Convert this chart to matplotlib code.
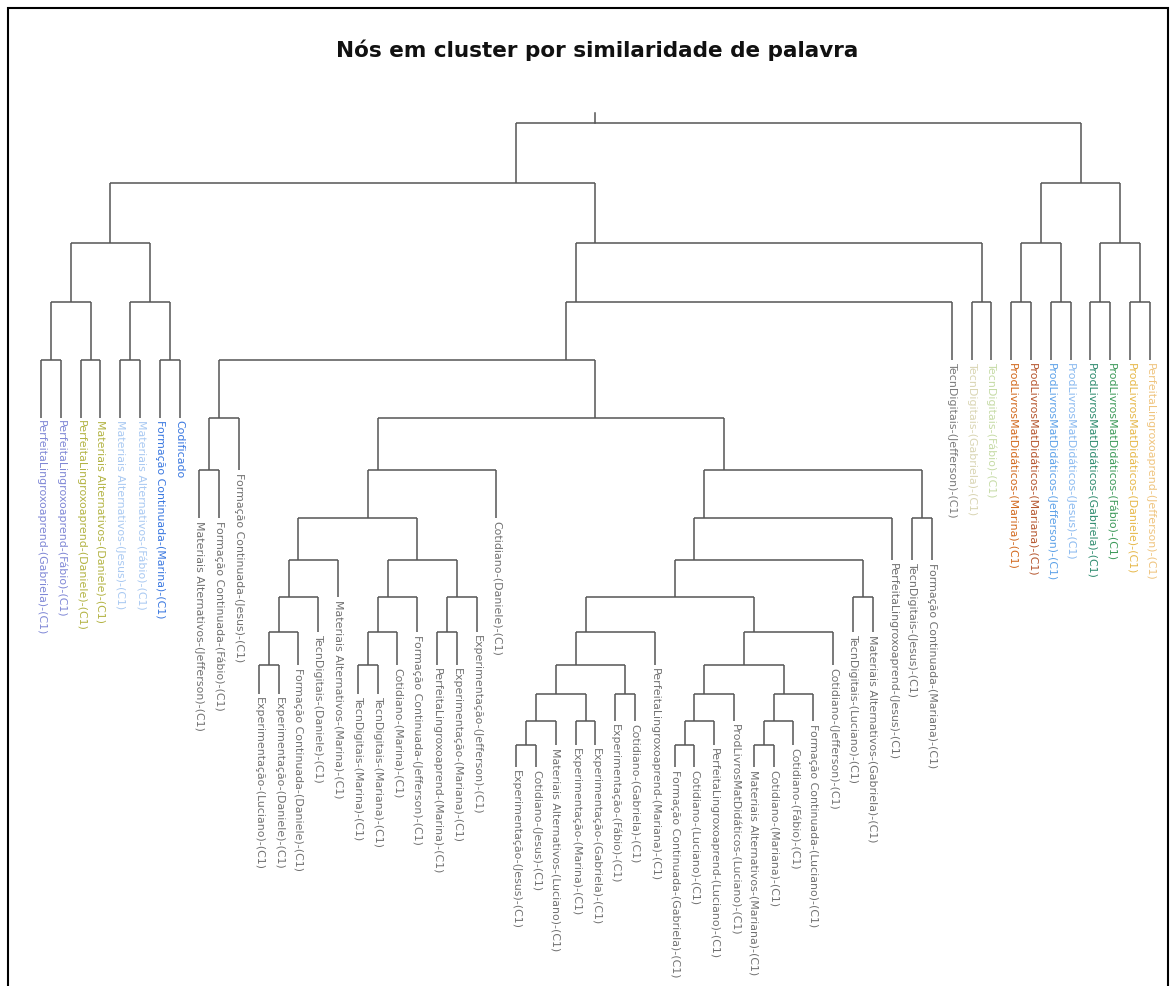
import matplotlib
matplotlib.use("Agg")
import matplotlib.pyplot as plt
from matplotlib.patches import Rectangle
import numpy as np

# ---------------- data ----------------
title = "Nós em cluster por similaridade de palavra"

leaf_labels = [
    "PerfeitaLingroxoaprend-(Gabriela)-(C1)", "PerfeitaLingroxoaprend-(Fábio)-(C1)",
    "PerfeitaLingroxoaprend-(Daniele)-(C1)", "Materiais Alternativos-(Daniele)-(C1)",
    "Materiais Alternativos-(Jesus)-(C1)", "Materiais Alternativos-(Fábio)-(C1)",
    "Formação Continuada-(Marina)-(C1)", "Codificado",
    "Materiais Alternativos-(Jefferson)-(C1)", "Formação Continuada-(Fábio)-(C1)",
    "Formação Continuada-(Jesus)-(C1)",
    "Experimentação-(Luciano)-(C1)", "Experimentação-(Daniele)-(C1)",
    "Formação Continuada-(Daniele)-(C1)", "TecnDigitais-(Daniele)-(C1)",
    "Materiais Alternativos-(Marina)-(C1)", "TecnDigitais-(Marina)-(C1)",
    "TecnDigitais-(Mariana)-(C1)", "Cotidiano-(Marina)-(C1)",
    "Formação Continuada-(Jefferson)-(C1)", "PerfeitaLingroxoaprend-(Marina)-(C1)",
    "Experimentação-(Mariana)-(C1)", "Experimentação-(Jefferson)-(C1)",
    "Cotidiano-(Daniele)-(C1)",
    "Experimentação-(Jesus)-(C1)", "Cotidiano-(Jesus)-(C1)",
    "Materiais Alternativos-(Luciano)-(C1)", "Experimentação-(Marina)-(C1)",
    "Experimentação-(Gabriela)-(C1)", "Experimentação-(Fábio)-(C1)",
    "Cotidiano-(Gabriela)-(C1)", "PerfeitaLingroxoaprend-(Mariana)-(C1)",
    "Formação Continuada-(Gabriela)-(C1)", "Cotidiano-(Luciano)-(C1)",
    "PerfeitaLingroxoaprend-(Luciano)-(C1)", "ProdLivrosMatDidáticos-(Luciano)-(C1)",
    "Materiais Alternativos-(Mariana)-(C1)", "Cotidiano-(Mariana)-(C1)",
    "Cotidiano-(Fábio)-(C1)", "Formação Continuada-(Luciano)-(C1)",
    "Cotidiano-(Jefferson)-(C1)", "TecnDigitais-(Luciano)-(C1)",
    "Materiais Alternativos-(Gabriela)-(C1)", "PerfeitaLingroxoaprend-(Jesus)-(C1)",
    "TecnDigitais-(Jesus)-(C1)", "Formação Continuada-(Mariana)-(C1)",
    "TecnDigitais-(Jefferson)-(C1)", "TecnDigitais-(Gabriela)-(C1)",
    "TecnDigitais-(Fábio)-(C1)",
    "ProdLivrosMatDidáticos-(Marina)-(C1)", "ProdLivrosMatDidáticos-(Mariana)-(C1)",
    "ProdLivrosMatDidáticos-(Jefferson)-(C1)", "ProdLivrosMatDidáticos-(Jesus)-(C1)",
    "ProdLivrosMatDidáticos-(Gabriela)-(C1)", "ProdLivrosMatDidáticos-(Fábio)-(C1)",
    "ProdLivrosMatDidáticos-(Daniele)-(C1)", "PerfeitaLingroxoaprend-(Jefferson)-(C1)",
]

GRAY = "#707070"
leaf_colors = (
    ["#7f87d6", "#7f87d6", "#b3b343", "#b3b343", "#a9c9f2", "#a9c9f2", "#3a78e0", "#3a78e0"]
    + [GRAY] * 38
    + ["#7a7a7a", "#d9d5b3", "#c6dba6",
       "#d2691e", "#b5562e", "#5ea2e8", "#8bbaf0", "#2e8b6e", "#3d9a5a", "#e6b84a", "#efc47e"]
)

# tree (nested lists of leaf indices)
left_group = [[[0, 1], [2, 3]], [[4, 5], [6, 7]]]
sub_a = [[8, 9], 10]
sub_p = [[[[[[11, 12], 13], 14], 15], [[[[16, 17], 18], 19], [[20, 21], 22]]], 23]
sub_y1 = [[[[[24, 25], 26], [27, 28]], [29, 30]], 31]
sub_y2 = [[[[[32, 33], 34], 35], [[[36, 37], 38], 39]], 40]
sub_u = [[[[sub_y1, sub_y2], [41, 42]], 43], [44, 45]]
middle_group = [[[sub_a, [sub_p, sub_u]], 46], [47, 48]]
right_group = [[[49, 50], [51, 52]], [[53, 54], [55, 56]]]
tree = [[left_group, middle_group], right_group]

# dissimilarity height of each tree level
level_height = [10.92, 9.90, 8.88, 7.88, 6.90, 5.92, 5.03, 4.22,
                3.51, 2.88, 2.29, 1.73, 1.24, 0.78, 0.37, 0.0]

# ---------------- figure ----------------
W, H = 1176, 986
fig = plt.figure(figsize=(W / 100, H / 100), dpi=100)
ax = fig.add_axes([0, 0, 1, 1])
ax.set_axis_off()

# scale: leaf index -> x, height -> y
px_per_leaf = 19.8
x0_px = 41.0
ax.set_xlim(-x0_px / px_per_leaf, (W - x0_px) / px_per_leaf)
px_per_h = 59.0
base_px = 767.0
ax.set_ylim((base_px - H) / px_per_h, base_px / px_per_h)

LINE = "#555555"
LW = 1.1


def leaves_of(node):
    if isinstance(node, int):
        return [node]
    out = []
    for c in node:
        out += leaves_of(c)
    return out


def xpos(node):
    return float(np.mean(leaves_of(node)))


def draw(node, depth):
    if isinstance(node, int):
        ax.annotate(leaf_labels[node], (node, level_height[depth]),
                    xytext=(0, -2), textcoords="offset points",
                    rotation=270, ha="center", va="top",
                    fontsize=7.9, color=leaf_colors[node])
        return
    hy = level_height[depth]
    cx = [xpos(c) for c in node]
    ax.plot([min(cx), max(cx)], [hy, hy], color=LINE, lw=LW, solid_capstyle="butt")
    for c, x in zip(node, cx):
        ax.plot([x, x], [hy, level_height[depth + 1]], color=LINE, lw=LW,
                solid_capstyle="butt")
        draw(c, depth + 1)


root_x = xpos(tree)
ax.plot([root_x, root_x], [level_height[0], level_height[0] + 10 / px_per_h],
        color=LINE, lw=LW)
draw(tree, 0)

fig.text(597 / W, 1 - 50 / H, title, ha="center", va="center",
         fontsize=15.5, fontweight="bold", color="#111111")

fig.patches.append(Rectangle((8 / W, -0.02), 1160 / W, 1.02 - 8 / H,
                             transform=fig.transFigure, fill=False,
                             edgecolor="black", lw=1.5))

fig.savefig("out.png", dpi=100)
